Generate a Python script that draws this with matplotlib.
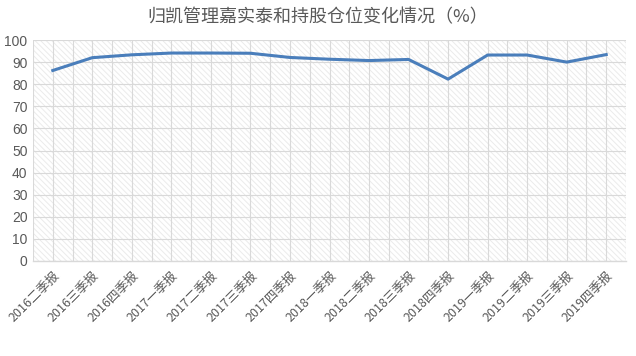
import matplotlib
matplotlib.use("Agg")
import matplotlib.pyplot as plt
import numpy as np

categories = ["2016二季报", "2016三季报", "2016四季报", "2017一季报", "2017二季报",
              "2017三季报", "2017四季报", "2018一季报", "2018二季报", "2018三季报",
              "2018四季报", "2019一季报", "2019二季报", "2019三季报", "2019四季报"]
values = [86.2, 92.0, 93.3, 94.1, 94.1, 94.0, 92.1, 91.3, 90.7, 91.2,
          82.3, 93.2, 93.2, 90.0, 93.4]
yticks = list(range(0, 101, 10))
title = "归凯管理嘉实泰和持股仓位变化情况（%）"

plt.rcParams['font.family'] = ['Noto Sans CJK SC', 'DejaVu Sans']
plt.rcParams['hatch.color'] = '#ebebeb'
plt.rcParams['hatch.linewidth'] = 0.7

fig = plt.figure(figsize=(6.36, 3.56), dpi=100)
ax = fig.add_axes([33/636, 1-261/356, 593/636, 221/356])

ax.patch.set_facecolor('white')
ax.patch.set_hatch('\\' * 6)
ax.patch.set_edgecolor('#ebebeb')
ax.patch.set_linewidth(0)

x = np.arange(len(categories))
ax.plot(x, values, color='#4a7ebb', linewidth=2.2, solid_joinstyle='round', zorder=3)

ax.set_xlim(-0.5, len(categories) - 0.5)
ax.set_ylim(0, 100)
ax.set_yticks(yticks)
ax.set_xticks(x)
ax.set_xticks(np.arange(-0.5, len(categories), 1.0), minor=True)
ax.set_xticklabels(categories, rotation=45, ha='right', rotation_mode='anchor',
                   fontsize=9, color='#595959')
ax.tick_params(axis='x', which='both', length=0, pad=6)
ax.tick_params(axis='y', length=0, labelsize=10, labelcolor='#595959', pad=4)
for lab in ax.get_yticklabels():
    lab.set_family(['Liberation Sans', 'DejaVu Sans'])

ax.grid(True, which='major', axis='both', color='#d9d9d9', linewidth=0.8, zorder=1)
ax.grid(True, which='minor', axis='x', color='#d9d9d9', linewidth=0.8, zorder=1)
ax.set_axisbelow(True)
for s in ['top', 'right', 'left']:
    ax.spines[s].set_visible(False)
ax.spines['bottom'].set_color('#d9d9d9')
ax.spines['bottom'].set_linewidth(1)

fig.text(0.5, 1-17/356, title, ha='center', va='center', fontsize=13,
         color='#595959')

fig.savefig('out.png', dpi=100)
